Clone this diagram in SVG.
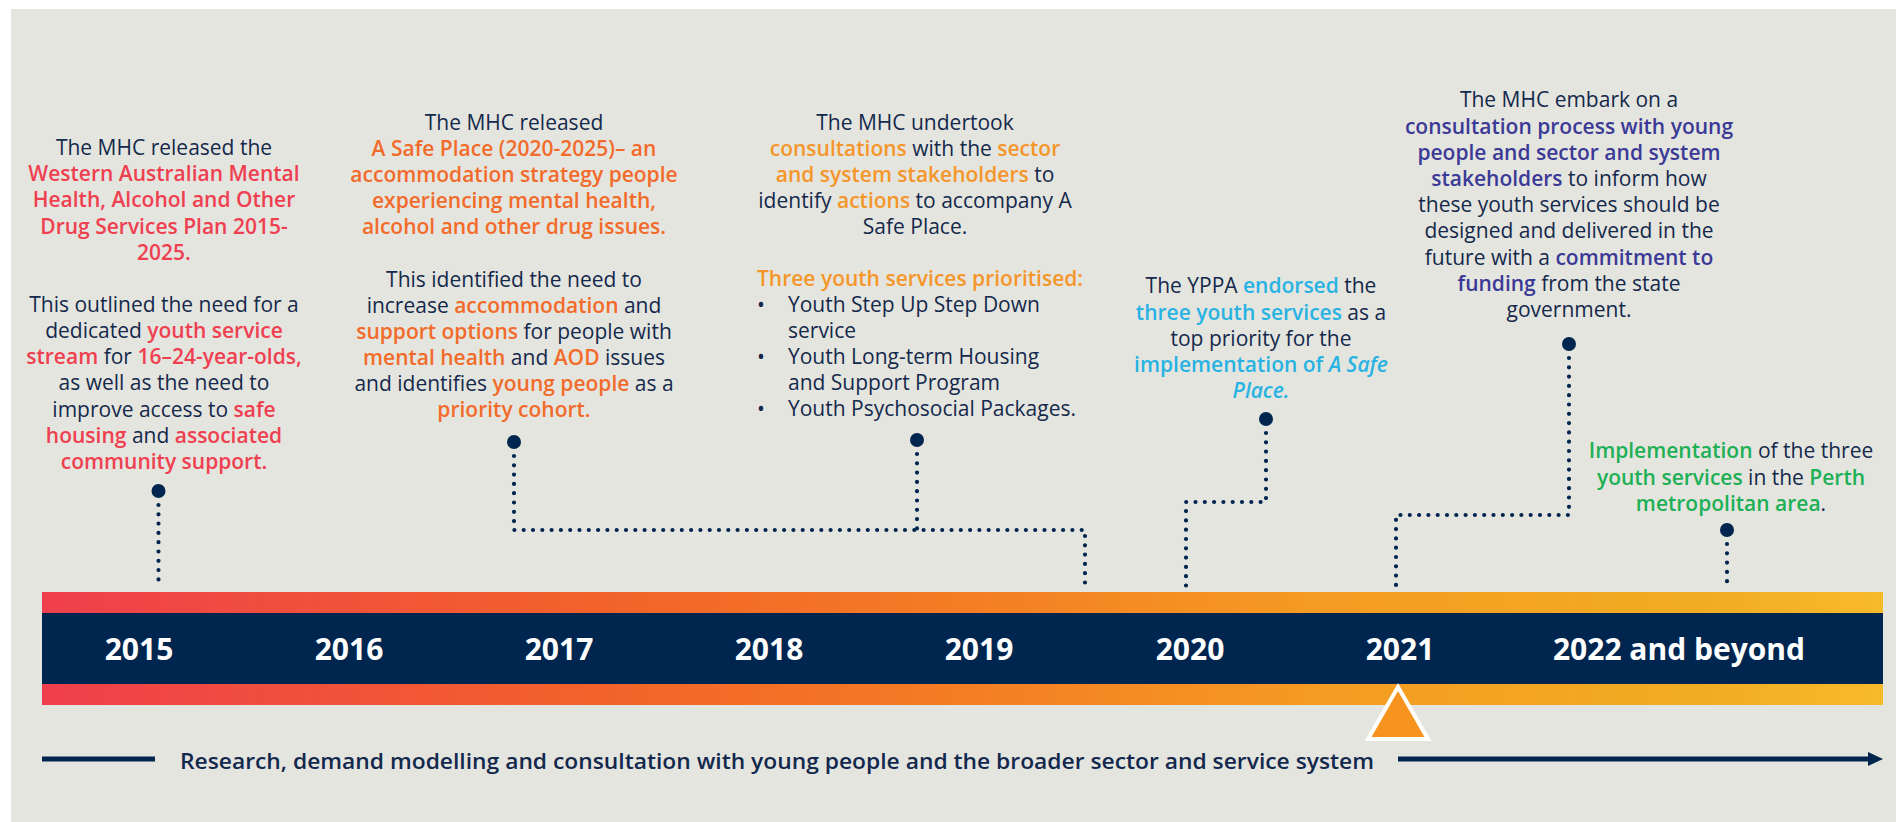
<svg xmlns="http://www.w3.org/2000/svg" width="1896" height="822" viewBox="0 0 1896 822">
<defs>
<linearGradient id="barGrad" x1="0" y1="0" x2="1" y2="0">
<stop offset="0" stop-color="#EF3F4C"/>
<stop offset="0.3" stop-color="#F2622A"/>
<stop offset="0.5" stop-color="#F47D24"/>
<stop offset="0.7" stop-color="#F59C22"/>
<stop offset="0.9" stop-color="#F1AC22"/>
<stop offset="1" stop-color="#F7BA2A"/>
</linearGradient>
<style>
text{font-family:"Open Sans","Noto Sans","Liberation Sans",sans-serif;font-size:21px;fill:#14294B}
.c{text-anchor:middle}
.b{font-weight:600}
.red{fill:#EF4050;font-weight:600}
.org{fill:#F26B2A;font-weight:600}
.yel{fill:#F5962A;font-weight:600}
.blu{fill:#29B3E3;font-weight:600}
.pur{fill:#3B3A96;font-weight:600}
.grn{fill:#1DB055;font-weight:600}
.it{font-style:italic}
.yr{font-size:30px;font-weight:700;fill:#FFFFFF;text-anchor:middle}
.dot{fill:#00264F}
.dl{fill:none;stroke:#00264F;stroke-width:4.2;stroke-linecap:round;stroke-dasharray:0 9.3}
</style>
</defs>
<rect x="11" y="9" width="1885" height="813" fill="#E5E5E0"/>

<g id="timeline-bar">
<rect x="42" y="592" width="1841" height="113" fill="url(#barGrad)"/>
<rect x="42" y="613" width="1841" height="71" fill="#00264F"/>
<text class="yr" x="139" y="660">2015</text>
<text class="yr" x="349" y="660">2016</text>
<text class="yr" x="559" y="660">2017</text>
<text class="yr" x="769" y="660">2018</text>
<text class="yr" x="979" y="660">2019</text>
<text class="yr" x="1190" y="660">2020</text>
<text class="yr" x="1400" y="660">2021</text>
<text class="yr" x="1679" y="660">2022 and beyond</text>
</g>

<g id="now-marker">
<polygon points="1398,687 1368,739 1428,739" fill="#F7941F" stroke="#FFFFFF" stroke-width="4" stroke-linejoin="miter"/>
</g>

<g id="connectors">
<path class="dl" d="M158.5 505 V588"/>
<path class="dl" d="M514 456 V530 H1085 V588"/>
<path class="dl" d="M917 454 V530"/>
<path class="dl" d="M1266 433 V502 H1186 V588"/>
<path class="dl" d="M1569 358 V515 H1396 V588"/>
<path class="dl" d="M1727 544 V588"/>
</g>

<g id="event-2015">
<circle class="dot" cx="158.5" cy="491" r="7"/>
<text class="c" x="164" y="155">The MHC released the</text>
<text class="c red" x="164" y="181.2">Western Australian Mental</text>
<text class="c red" x="164" y="207.4">Health, Alcohol and Other</text>
<text class="c red" x="164" y="233.6">Drug Services Plan 2015-</text>
<text class="c red" x="164" y="259.8">2025.</text>
<text class="c" x="164" y="311.7">This outlined the need for a</text>
<text class="c" x="164" y="337.9">dedicated <tspan class="red">youth service</tspan></text>
<text class="c" x="164" y="364.1"><tspan class="red">stream</tspan> for <tspan class="red">16–24-year-olds,</tspan></text>
<text class="c" x="164" y="390.3">as well as the need to</text>
<text class="c" x="164" y="416.5">improve access to <tspan class="red">safe</tspan></text>
<text class="c" x="164" y="442.7"><tspan class="red">housing</tspan> and <tspan class="red">associated</tspan></text>
<text class="c red" x="164" y="468.9">community support.</text>
</g>

<g id="event-2017">
<circle class="dot" cx="514" cy="442" r="7"/>
<text class="c" x="514" y="130">The MHC released</text>
<text class="c org" x="514" y="156">A Safe Place (2020-2025)– an</text>
<text class="c org" x="514" y="182">accommodation strategy people</text>
<text class="c org" x="514" y="208">experiencing mental health,</text>
<text class="c org" x="514" y="234">alcohol and other drug issues.</text>
<text class="c" x="514" y="286.5">This identified the need to</text>
<text class="c" x="514" y="312.5">increase <tspan class="org">accommodation</tspan> and</text>
<text class="c" x="514" y="338.5"><tspan class="org">support options</tspan> for people with</text>
<text class="c" x="514" y="364.5"><tspan class="org">mental health</tspan> and <tspan class="org">AOD</tspan> issues</text>
<text class="c" x="514" y="390.5">and identifies <tspan class="org">young people</tspan> as a</text>
<text class="c org" x="514" y="416.5">priority cohort.</text>
</g>

<g id="event-2019">
<circle class="dot" cx="917" cy="440" r="7"/>
<text class="c" x="915" y="129.5">The MHC undertook</text>
<text class="c" x="915" y="155.5"><tspan class="yel">consultations</tspan> with the <tspan class="yel">sector</tspan></text>
<text class="c" x="915" y="181.5"><tspan class="yel">and system stakeholders</tspan> to</text>
<text class="c" x="915" y="207.5">identify <tspan class="yel">actions</tspan> to accompany A</text>
<text class="c" x="915" y="233.5">Safe Place.</text>
<text class="yel" x="757" y="285.5">Three youth services prioritised:</text>
<text x="757" y="311.5">•</text>
<text x="788" y="311.5">Youth Step Up Step Down</text>
<text x="788" y="337.5">service</text>
<text x="757" y="363.5">•</text>
<text x="788" y="363.5">Youth Long-term Housing</text>
<text x="788" y="389.5">and Support Program</text>
<text x="757" y="415.5">•</text>
<text x="788" y="415.5">Youth Psychosocial Packages.</text>
</g>

<g id="event-2020">
<circle class="dot" cx="1266" cy="419" r="7"/>
<text class="c" x="1261" y="293.3">The YPPA <tspan class="blu">endorsed</tspan> the</text>
<text class="c" x="1261" y="319.5"><tspan class="blu">three youth services</tspan> as a</text>
<text class="c" x="1261" y="345.7">top priority for the</text>
<text class="c" x="1261" y="371.9"><tspan class="blu">implementation of </tspan><tspan class="blu it">A Safe</tspan></text>
<text class="c blu it" x="1261" y="398.1">Place.</text>
</g>

<g id="event-2021">
<circle class="dot" cx="1569" cy="344" r="7"/>
<text class="c" x="1569" y="107.3">The MHC embark on a</text>
<text class="c pur" x="1569" y="133.5">consultation process with young</text>
<text class="c pur" x="1569" y="159.7">people and sector and system</text>
<text class="c" x="1569" y="185.9"><tspan class="pur">stakeholders</tspan> to inform how</text>
<text class="c" x="1569" y="212.1">these youth services should be</text>
<text class="c" x="1569" y="238.3">designed and delivered in the</text>
<text class="c" x="1569" y="264.5">future with a <tspan class="pur">commitment to</tspan></text>
<text class="c" x="1569" y="290.7"><tspan class="pur">funding</tspan> from the state</text>
<text class="c" x="1569" y="316.9">government.</text>
</g>

<g id="event-2022">
<circle class="dot" cx="1727" cy="530" r="7"/>
<text class="c" x="1731" y="458.3"><tspan class="grn">Implementation</tspan> of the three</text>
<text class="c" x="1731" y="484.5"><tspan class="grn">youth services</tspan> in the <tspan class="grn">Perth</tspan></text>
<text class="c" x="1731" y="510.7"><tspan class="grn">metropolitan area</tspan>.</text>
</g>

<g id="research-arrow">
<rect x="42" y="756.5" width="113" height="5" fill="#00264F"/>
<rect x="1398" y="756.5" width="472" height="5" fill="#00264F"/>
<polygon points="1868,752 1883,759 1868,766" fill="#00264F"/>
<text class="b" x="180" y="769" textLength="1194" lengthAdjust="spacingAndGlyphs" style="font-size:22px;fill:#12284C">Research, demand modelling and consultation with young people and the broader sector and service system</text>
</g>
</svg>
